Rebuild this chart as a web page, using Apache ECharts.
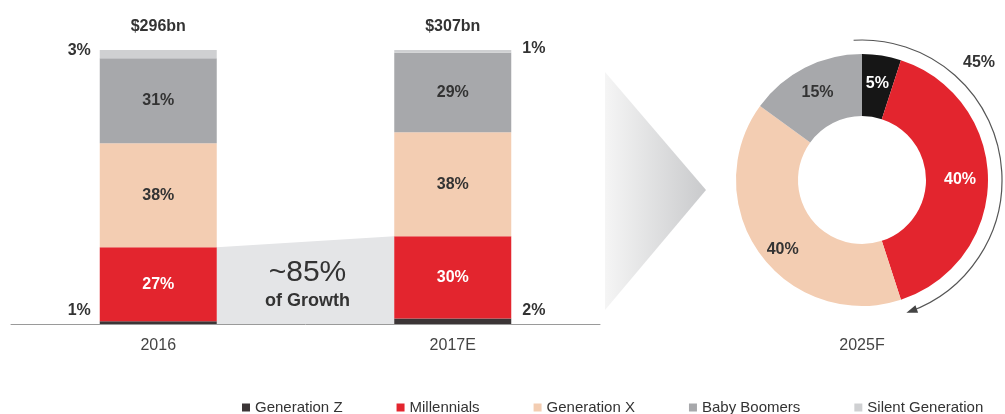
<!DOCTYPE html>
<html>
<head>
<meta charset="utf-8">
<script src="https://cdn.jsdelivr.net/npm/echarts@6.0.0/dist/echarts.min.js"></script>
<style>
  html, body { margin: 0; padding: 0; background: #fff; }
  #main { width: 1005px; height: 414px; }
</style>
</head>
<body>
<div id="main"></div>
<script>
// 数据
const years = ['2016', '2017E'];
const generations = ['Generation Z', 'Millennials', 'Generation X', 'Baby Boomers', 'Silent Generation'];
const genZ = [1, 2];
const millennials = [27, 30];
const genX = [38, 38];
const boomers = [31, 29];
const silent = [3, 1];
const marketSizeBn = [296, 307];
const growthShare = 85;
const pieNames = ['Generation Z', 'Millennials', 'Generation X', 'Baby Boomers'];
const share2025 = [5, 40, 40, 15];
const pieYear = '2025F';

const colors = ['#3b3536', '#e3252e', '#f3cdb2', '#a7a8ab', '#cfd0d2'];
const pieColors = ['#161616', '#e3252e', '#f3cdb2', '#a7a8ab'];
const FONT = '"Liberation Sans", Arial, sans-serif';
const BAR_W = 117;

const PIE_CX = 862, PIE_CY = 180;

var myChart = echarts.init(document.getElementById('main'));

// 柱内标签
function inside(vals, color) {
  return vals.map(v => ({
    value: v,
    label: { show: true, position: 'inside', color: color, fontWeight: 'bold', fontSize: 16, formatter: '{c}%' }
  }));
}

// 柱外标签（左/右）
function outside(vals, dys) {
  return vals.map((v, i) => ({
    value: v,
    label: {
      show: true,
      position: i === 0 ? 'left' : 'right',
      distance: i === 0 ? 9 : 11,
      offset: [0, dys[i]],
      color: '#333', fontWeight: 'bold', fontSize: 16, formatter: '{c}%'
    }
  }));
}

const totals = years.map((y, i) => genZ[i] + millennials[i] + genX[i] + boomers[i] + silent[i]);

// 弧形箭头
const arcR = 140;
const arcStart = -Math.PI / 2 - 0.06;
const arcEnd = -Math.PI / 2 + 2 * Math.PI * (share2025[0] + share2025[1]) / 100 - 0.03;
const px = PIE_CX + arcR * Math.cos(arcEnd), py = PIE_CY + arcR * Math.sin(arcEnd);
const tx = -Math.sin(arcEnd), ty = Math.cos(arcEnd);
const nx = Math.cos(arcEnd), ny = Math.sin(arcEnd);
const arrowHead = [
  [px + tx * 3, py + ty * 3],
  [px - tx * 8 + nx * 4, py - ty * 8 + ny * 4],
  [px - tx * 8 - nx * 4, py - ty * 8 - ny * 4]
];

let option = {
  animation: false,
  textStyle: { fontFamily: FONT },
  legend: {
    data: generations,
    left: 237,
    top: 395,
    icon: 'rect',
    itemWidth: 8,
    itemHeight: 8,
    itemGap: 54,
    textStyle: { fontSize: 15, color: '#333' }
  },
  grid: { left: 11, right: 405, top: 50, bottom: 90 },
  xAxis: {
    type: 'category',
    data: years,
    axisLine: { lineStyle: { color: '#9a9a9a', width: 1 } },
    axisTick: { show: false },
    axisLabel: { fontSize: 16, color: '#444', margin: 14 }
  },
  yAxis: { type: 'value', min: 0, max: 100, show: false, splitLine: { show: false } },
  graphic: [
    {
      type: 'polygon',
      shape: { points: [[605, 72], [706, 190], [605, 310]] },
      style: {
        fill: new echarts.graphic.LinearGradient(0, 0, 1, 0, [
          { offset: 0, color: '#f5f5f5' },
          { offset: 1, color: '#c9cacc' }
        ])
      }
    },
    {
      type: 'arc',
      shape: { cx: PIE_CX, cy: PIE_CY, r: arcR, startAngle: arcStart, endAngle: arcEnd, clockwise: true },
      style: { stroke: '#555', lineWidth: 1.2, fill: null }
    },
    {
      type: 'polygon',
      shape: { points: arrowHead },
      style: { fill: '#444' }
    },
    {
      type: 'text',
      x: 979, y: 63,
      style: { text: (share2025[0] + share2025[1]) + '%', align: 'center', verticalAlign: 'middle', fontSize: 16, fontWeight: 'bold', fontFamily: FONT, fill: '#333' }
    },
    {
      type: 'text',
      x: PIE_CX, y: 346,
      style: { text: pieYear, align: 'center', verticalAlign: 'middle', fontSize: 16, fontFamily: FONT, fill: '#444' }
    }
  ],
  series: [
    {
      // 增长区域
      type: 'custom',
      name: 'growth',
      z: 1,
      silent: true,
      encode: { x: 0, y: 1 },
      data: [[0, genZ[0] + millennials[0], genZ[1] + millennials[1]]],
      renderItem: function (params, api) {
        const half = BAR_W / 2;
        const a = api.coord([0, api.value(1)]);
        const b = api.coord([1, api.value(2)]);
        const base = api.coord([0, 0])[1];
        const x0 = a[0] + half, x1 = b[0] - half;
        const cx = (x0 + x1) / 2 + 2;
        return {
          type: 'group',
          children: [
            {
              type: 'polygon',
              shape: { points: [[x0, a[1]], [x1, b[1]], [x1, base], [x0, base]] },
              style: { fill: '#e4e5e7' }
            },
            {
              type: 'text',
              x: cx, y: base - 51,
              style: { text: '~' + growthShare + '%', align: 'center', verticalAlign: 'middle', fontSize: 30, fontFamily: FONT, fill: '#333' }
            },
            {
              type: 'text',
              x: cx, y: base - 23,
              style: { text: 'of Growth', align: 'center', verticalAlign: 'middle', fontSize: 18, fontWeight: 'bold', fontFamily: FONT, fill: '#333' }
            }
          ]
        };
      }
    },
    {
      name: 'Generation Z', type: 'bar', stack: 'total', barWidth: BAR_W, z: 3,
      itemStyle: { color: colors[0] },
      data: outside(genZ, [-12, -11])
    },
    {
      name: 'Millennials', type: 'bar', stack: 'total', barWidth: BAR_W, z: 3,
      itemStyle: { color: colors[1] },
      data: inside(millennials, '#fff')
    },
    {
      name: 'Generation X', type: 'bar', stack: 'total', barWidth: BAR_W, z: 3,
      itemStyle: { color: colors[2] },
      data: inside(genX, '#333')
    },
    {
      name: 'Baby Boomers', type: 'bar', stack: 'total', barWidth: BAR_W, z: 3,
      itemStyle: { color: colors[3] },
      data: inside(boomers, '#333')
    },
    {
      name: 'Silent Generation', type: 'bar', stack: 'total', barWidth: BAR_W, z: 3,
      itemStyle: { color: colors[4] },
      data: outside(silent, [-4, -3])
    },
    {
      // 柱顶总额
      name: 'total', type: 'scatter', symbolSize: 0, z: 4,
      silent: true,
      itemStyle: { color: '#fff', opacity: 1 },
      data: totals.map((t, i) => [i, t]),
      label: {
        show: true, position: 'top', distance: 15,
        color: '#333', fontWeight: 'bold', fontSize: 16, opacity: 1,
        formatter: p => '$' + marketSizeBn[p.dataIndex] + 'bn'
      }
    },
    {
      name: pieYear, type: 'pie',
      center: [PIE_CX, PIE_CY],
      radius: [64, 126],
      startAngle: 90,
      clockwise: true,
      emphasis: { scale: false },
      itemStyle: { borderWidth: 0 },
      label: { show: true, position: 'inside', fontWeight: 'bold', fontSize: 16, formatter: '{c}%' },
      labelLine: { show: false },
      data: share2025.map((v, i) => ({
        name: pieNames[i],
        value: v,
        itemStyle: { color: pieColors[i] },
        label: {
          color: (i < 2) ? '#fff' : '#333',
          offset: i === 2 ? [0, 12] : [0, 0]
        }
      }))
    }
  ]
};

myChart.setOption(option);
</script>
</body>
</html>
